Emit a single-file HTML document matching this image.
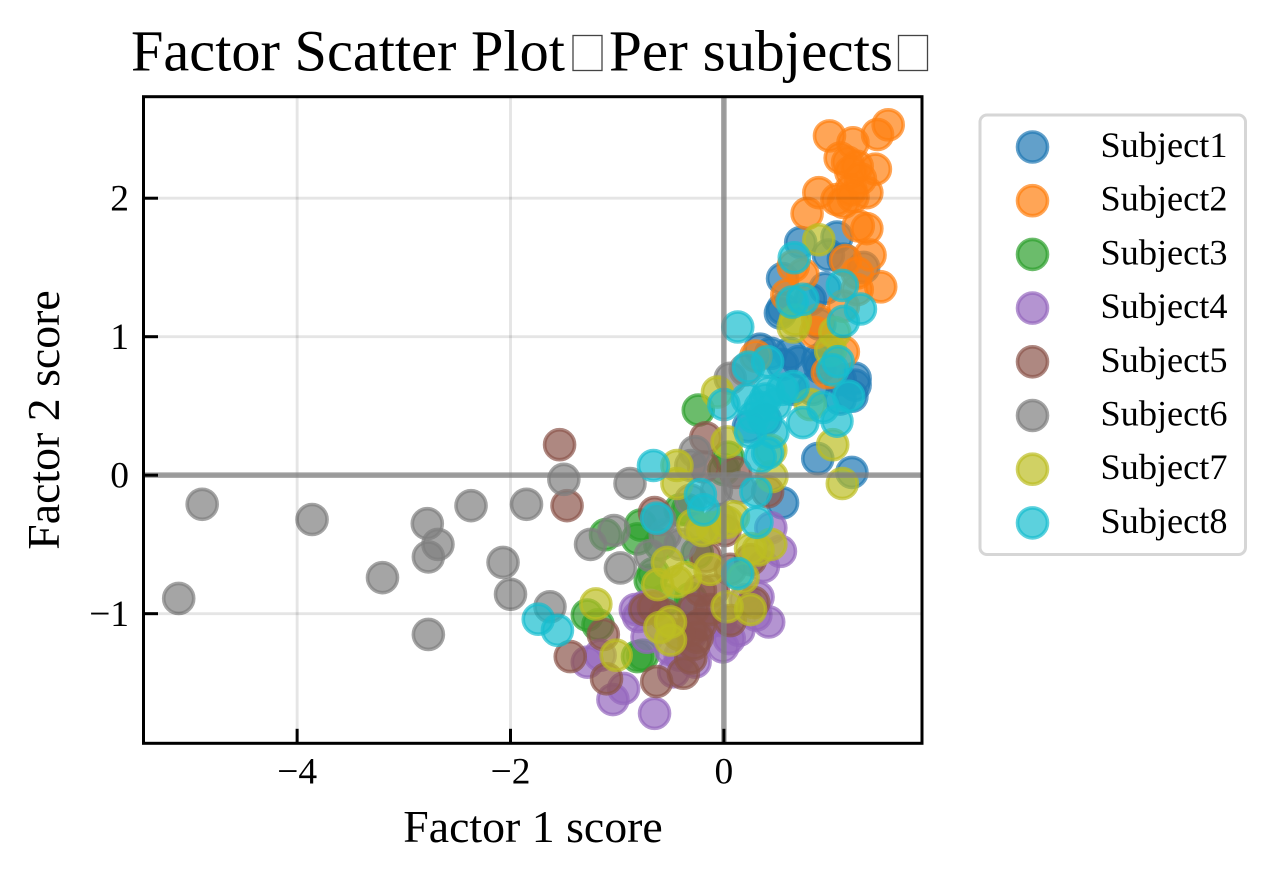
<!DOCTYPE html>
<html lang="en">
<head>
<meta charset="utf-8">
<title>Factor Scatter Plot</title>
<style>
html,body{margin:0;padding:0;background:#fff;width:1275px;height:881px;overflow:hidden}
svg{display:block;font-family:"Liberation Serif","Noto Serif CJK SC",serif}
</style>
</head>
<body>
<svg id="chart" xmlns="http://www.w3.org/2000/svg" width="1275" height="881" viewBox="0 0 1275 881">
  <rect x="0" y="0" width="1275" height="881" fill="#ffffff"/>
  <text x="131" y="70.5" font-size="58.3" textLength="434" lengthAdjust="spacingAndGlyphs" fill="#000">Factor Scatter Plot</text>
  <rect x="573" y="35.5" width="29" height="35" fill="none" stroke="#444" stroke-width="1.3"/>
  <text x="609" y="70.5" font-size="58.3" textLength="284" lengthAdjust="spacingAndGlyphs" fill="#000">Per subjects</text>
  <rect x="898.5" y="35.5" width="29" height="35" fill="none" stroke="#444" stroke-width="1.3"/>
  <g id="points"></g>
  <g id="grid"></g>
  <g id="zero-lines"></g>
  <g id="axes"></g>
  <text x="533" y="842" font-size="45.8" text-anchor="middle" fill="#000">Factor 1 score</text>
  <text transform="translate(59,420) rotate(-90)" font-size="45.8" text-anchor="middle" fill="#000">Factor 2 score</text>
  <g id="legend"></g>
</svg>
<script>
const subjectNames = ['Subject1','Subject2','Subject3','Subject4','Subject5','Subject6','Subject7','Subject8'];
const subjectColors = ['#1f77b4','#ff7f0e','#2ca02c','#9467bd','#8c564b','#7f7f7f','#bcbd22','#17becf'];
const xTickValues = [-4,-2,0];
const yTickValues = [-1,0,1,2];
const xTickLabels = ['\u22124','\u22122','0'];
const yTickLabels = ['\u22121','0','1','2'];

const subject1 = [[.72,1.68],[1.06,1.72],[.98,1.59],[.55,1.42],[.55,1.20],[.95,1.35],[.81,1.27],[.53,1.17],[.44,.88],[.62,.88],[.70,.82],[.88,.83],[1.23,.70],[1.20,.57],[1.09,.55],[.83,.62],[.23,.35],[.88,.12],[1.20,.02],[.55,-.20],[.34,.91],[.90,.78],[1.09,.69],[.64,.62],[.39,.40],[1.23,.65],[1.12,1.56],[1.31,1.50],[.9,1.09],[.55,.8],[.97,.88]];
const subject2 = [[.99,2.45],[1.21,2.40],[1.44,2.46],[1.54,2.53],[1.09,2.29],[1.42,2.21],[1.16,2.26],[1.25,2.23],[1.19,2.19],[1.28,2.14],[1.34,2.04],[.89,2.04],[1.19,2.06],[1.06,1.99],[1.21,2.01],[.78,1.89],[1.12,1.97],[1.26,1.80],[1.34,1.78],[1.37,1.59],[1.47,1.36],[1.14,1.55],[.74,1.45],[.65,1.51],[.59,1.30],[1.25,1.46],[1.25,1.34],[1.12,1.22],[.88,1.12],[.86,1.03],[.30,.86],[1.12,.89],[.97,.74]];
const subject3 = [[-1.11,-.43],[-.81,-.46],[-.66,-.71],[-.75,-.97],[-1.28,-1.01],[-1.18,-1.08],[-.81,-1.31],[-.76,-1.30],[-.34,-.25],[-.25,-.56],[-.31,-.89],[-.24,.47],[.04,.13],[0,.04],[-.41,-.25],[-.69,-.76],[-.55,-.90],[-.78,-.36],[-.6,-.5]];
const subject4 = [[-.65,-1.72],[-1.04,-1.62],[-.94,-1.54],[-1.28,-1.35],[-.47,-1.42],[-.27,-1.35],[-.01,-1.24],[.14,-1.12],[.42,-1.06],[.32,-.88],[.53,-.55],[.44,-.38],[.37,-.66],[-.74,-.95],[-.72,-1.17],[-.25,-.96],[-.31,-1.15],[-.17,-1.08],[-.03,-1.05],[-.5,-1.26],[-.41,-1.30],[-.69,-.94],[.2,-.9],[.3,-1.01],[-.6,-1.08],[-1.16,-1.30],[-.83,-.97],[-.8,-1.02],[.05,-1.18]];
const subject5 = [[-1.54,.22],[-1.47,-.22],[-.65,-.27],[-1.44,-1.31],[-1.13,-1.15],[-1.10,-1.47],[-.63,-1.49],[-.38,-1.43],[-.31,-1.32],[-.25,-1.17],[-.22,-1.08],[.06,-1.05],[.28,-.92],[-.74,-.97],[-.66,-.95],[-.29,-.97],[-.17,-.59],[-.1,-.83],[.11,.02],[.41,-.12],[-.19,.06],[-.17,.27],[-.22,-.83],[.06,-.68],[.25,-.61],[.01,-.40],[-.31,-1.12],[-.13,-.97],[-.55,-1.01],[-.28,-1.22],[-.42,-1.15]];
const subject6 = [[-4.89,-.21],[-3.86,-.32],[-2.78,-.35],[-2.68,-.50],[-2.77,-.59],[-3.2,-.74],[-2.37,-.22],[-1.85,-.21],[-2.07,-.63],[-2.0,-.86],[-5.11,-.89],[-2.77,-1.15],[-1.63,-.95],[-1.5,-.03],[-.88,-.06],[-1.25,-.5],[-1.03,-.4],[-.97,-.67],[-.69,-.58],[-.27,.17],[.06,.70],[-.31,.07],[-.6,-.32],[-.31,-.18],[-.22,-.4],[-.41,-.5],[-.07,-.11],[.15,-.09],[-.03,-.32],[-.55,-.43],[.2,.76]];
const subject7 = [[.89,1.70],[.67,1.12],[.65,1.07],[1.04,1.03],[-.06,.60],[.03,.24],[.45,-.01],[1.02,.22],[1.11,-.06],[.81,.51],[-.44,.07],[-.44,-.06],[.44,.18],[-.2,-.4],[-.29,-.36],[-.11,-.38],[.03,-.34],[.32,-.54],[.25,-.53],[.44,-.5],[.18,-.74],[-.13,-.68],[-.53,-.63],[-.62,-.79],[-.44,-.77],[-.36,-.74],[.03,-.95],[.25,-.97],[-.5,-1.06],[-.6,-1.10],[-.5,-1.19],[-1.2,-.93],[-1.01,-1.30],[.09,-.3],[1.0,.9]];
const subject8 = [[.66,1.57],[1.11,1.37],[1.28,1.20],[1.12,1.11],[.64,1.25],[.74,1.27],[.13,1.07],[.41,.82],[.23,.78],[1.07,.82],[1.02,.76],[1.17,.57],[1.06,.39],[.93,.49],[.74,.38],[.65,.64],[.42,.6],[0,.51],[.34,.49],[.37,.42],[.25,.31],[.46,.31],[.41,.16],[.34,.13],[.3,-.12],[-.22,-.14],[-.19,-.25],[-.63,-.31],[.31,-.34],[.13,-.71],[-1.74,-1.04],[-1.56,-1.12],[-.66,.07],[.39,.55],[.48,.51],[.22,.55],[.55,.62],[.28,.42]];
const allSubjects = [subject1,subject2,subject3,subject4,subject5,subject6,subject7,subject8];

const plotLeft = 143.5, plotRight = 922, plotTop = 96.7, plotBottom = 743.3;
const xMin = -5.44, xMax = 1.857, yMin = -1.936, yMax = 2.733;
function xScale(v){ return plotLeft + (v - xMin) / (xMax - xMin) * (plotRight - plotLeft); }
function yScale(v){ return plotBottom - (v - yMin) / (yMax - yMin) * (plotBottom - plotTop); }

const NS = 'http://www.w3.org/2000/svg';
function make(tag, attrs, parent){
  const el = document.createElementNS(NS, tag);
  for (const k in attrs) el.setAttribute(k, attrs[k]);
  parent.appendChild(el);
  return el;
}

const pointsLayer = document.getElementById('points');
allSubjects.forEach(function(points, s){
  const group = make('g', {}, pointsLayer);
  
  
  points.forEach(function(p){
    const dot = make('circle', {cx: xScale(p[0]), cy: yScale(p[1]), r: 15, fill: subjectColors[s], stroke: subjectColors[s], 'stroke-width': 3.6, 'fill-opacity': .7, 'stroke-opacity': .7}, group);
    
    
  });
});

const gridLayer = document.getElementById('grid');
xTickValues.forEach(function(v){
  const line = make('line', {x1: xScale(v), x2: xScale(v), y1: plotTop, y2: plotBottom, stroke: '#000', 'stroke-opacity': .1, 'stroke-width': 2.9}, gridLayer);
  
  
});
yTickValues.forEach(function(v){
  const line = make('line', {x1: plotLeft, x2: plotRight, y1: yScale(v), y2: yScale(v), stroke: '#000', 'stroke-opacity': .1, 'stroke-width': 2.9}, gridLayer);
  
  
});

const zeroLayer = document.getElementById('zero-lines');
const zeroH = make('line', {x1: plotLeft, x2: plotRight, y1: yScale(0), y2: yScale(0), stroke: '#808080', 'stroke-opacity': .75, 'stroke-width': 5.5}, zeroLayer);


const zeroV = make('line', {x1: xScale(0), x2: xScale(0), y1: plotTop, y2: plotBottom, stroke: '#808080', 'stroke-opacity': .75, 'stroke-width': 5.5}, zeroLayer);



const axesLayer = document.getElementById('axes');
const frame = make('rect', {x: plotLeft, y: plotTop, width: plotRight - plotLeft, height: plotBottom - plotTop, fill: 'none', stroke: '#000', 'stroke-width': 3}, axesLayer);


xTickValues.forEach(function(v, i){
  const tick = make('line', {x1: xScale(v), x2: xScale(v), y1: plotBottom, y2: plotBottom - 14.5, stroke: '#000', 'stroke-width': 3}, axesLayer);
  
  
  const label = make('text', {x: xScale(v), y: 783.5, 'font-size': 37.5, 'text-anchor': 'middle', fill: '#000'}, axesLayer);
  label.textContent = xTickLabels[i];
  
  
});
yTickValues.forEach(function(v, i){
  const tick = make('line', {x1: plotLeft, x2: plotLeft + 14.5, y1: yScale(v), y2: yScale(v), stroke: '#000', 'stroke-width': 3}, axesLayer);
  
  
  const label = make('text', {x: 129, y: yScale(v) + 12.4, 'font-size': 37.5, 'text-anchor': 'end', fill: '#000'}, axesLayer);
  label.textContent = yTickLabels[i];
  
  
});

const legendLayer = document.getElementById('legend');
const legendBox = make('rect', {x: 980, y: 115, width: 265.5, height: 439.5, rx: 7, ry: 7, fill: '#fff', stroke: '#d6d6d6', 'stroke-width': 3}, legendLayer);


subjectNames.forEach(function(name, i){
  const y = 147 + i * 53.7;
  const swatch = make('circle', {cx: 1032.5, cy: y, r: 15, fill: subjectColors[i], stroke: subjectColors[i], 'stroke-width': 3.6, 'fill-opacity': .7, 'stroke-opacity': .7}, legendLayer);
  
  
  const label = make('text', {x: 1100.5, y: y + 10, 'font-size': 36, textLength: 127, lengthAdjust: 'spacingAndGlyphs', fill: '#000'}, legendLayer);
  label.textContent = name;
  
  
});
</script>
</body>
</html>
